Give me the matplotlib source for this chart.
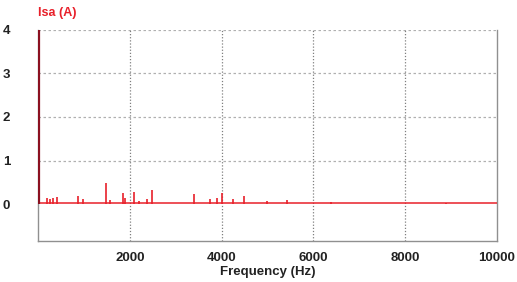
import matplotlib
matplotlib.use('Agg')
import matplotlib.pyplot as plt

# harmonic spectrum of Isa
dc_freq = 0
dc_amp = 4.2
freqs = [200, 260, 330, 410, 870, 980, 1480, 1565, 1850, 1890, 2090, 2200,
         2370, 2480, 3410, 3740, 3910, 4000, 4240, 4500, 4980, 5430, 6390, 8890]
amps = [0.15, 0.12, 0.14, 0.16, 0.18, 0.12, 0.48, 0.10, 0.25, 0.15, 0.27, 0.08,
        0.12, 0.33, 0.23, 0.12, 0.15, 0.25, 0.12, 0.18, 0.06, 0.09, 0.05, 0.03]
baseline = 0.02

xticks = [2000, 4000, 6000, 8000, 10000]
yticks = [0, 1, 2, 3, 4]

plt.rcParams['font.family'] = ['Liberation Sans', 'DejaVu Sans']

fig = plt.figure(figsize=(5.17, 2.82), dpi=100)
ax = fig.add_axes([0.0735, 0.145, 0.8875, 0.749])

# grid first
for y in yticks[1:]:
    ax.axhline(y, color='#b0b0b0', linestyle=(0, (2, 2)), linewidth=0.9, zorder=1)
for x in xticks[:-1]:
    ax.axvline(x, color='#808080', linestyle=(0, (1, 1.5)), linewidth=0.9, zorder=1)

# spectrum lines
ax.axhline(baseline, color='#e8202a', linewidth=1.1, zorder=3)
ax.vlines(freqs, 0, amps, color='#e8202a', linewidth=1.2, zorder=3)
ax.vlines([dc_freq + 15], 0, [dc_amp], color='#8b1020', linewidth=1.6, zorder=4)

ax.set_xlim(0, 10000)
ax.set_ylim(-0.85, 4.0)
ax.set_xticks(xticks)
ax.set_yticks(yticks)
ax.tick_params(length=0, labelsize=9.5, colors='#222222', pad=8)
ax.tick_params(axis='y', pad=20)
for lab in ax.get_xticklabels() + ax.get_yticklabels():
    lab.set_fontweight('bold')
ax.set_xlabel('Frequency (Hz)', fontsize=9.5, fontweight='bold', color='#222222', labelpad=1)

for s in ax.spines.values():
    s.set_color('#909090')
    s.set_linewidth(1.0)
ax.spines['top'].set_visible(False)

fig.text(0.0735, 0.955, 'Isa (A)', color='#e8202a', fontsize=9, fontweight='bold',
         va='center', ha='left')

plt.savefig('out.png', dpi=100)
